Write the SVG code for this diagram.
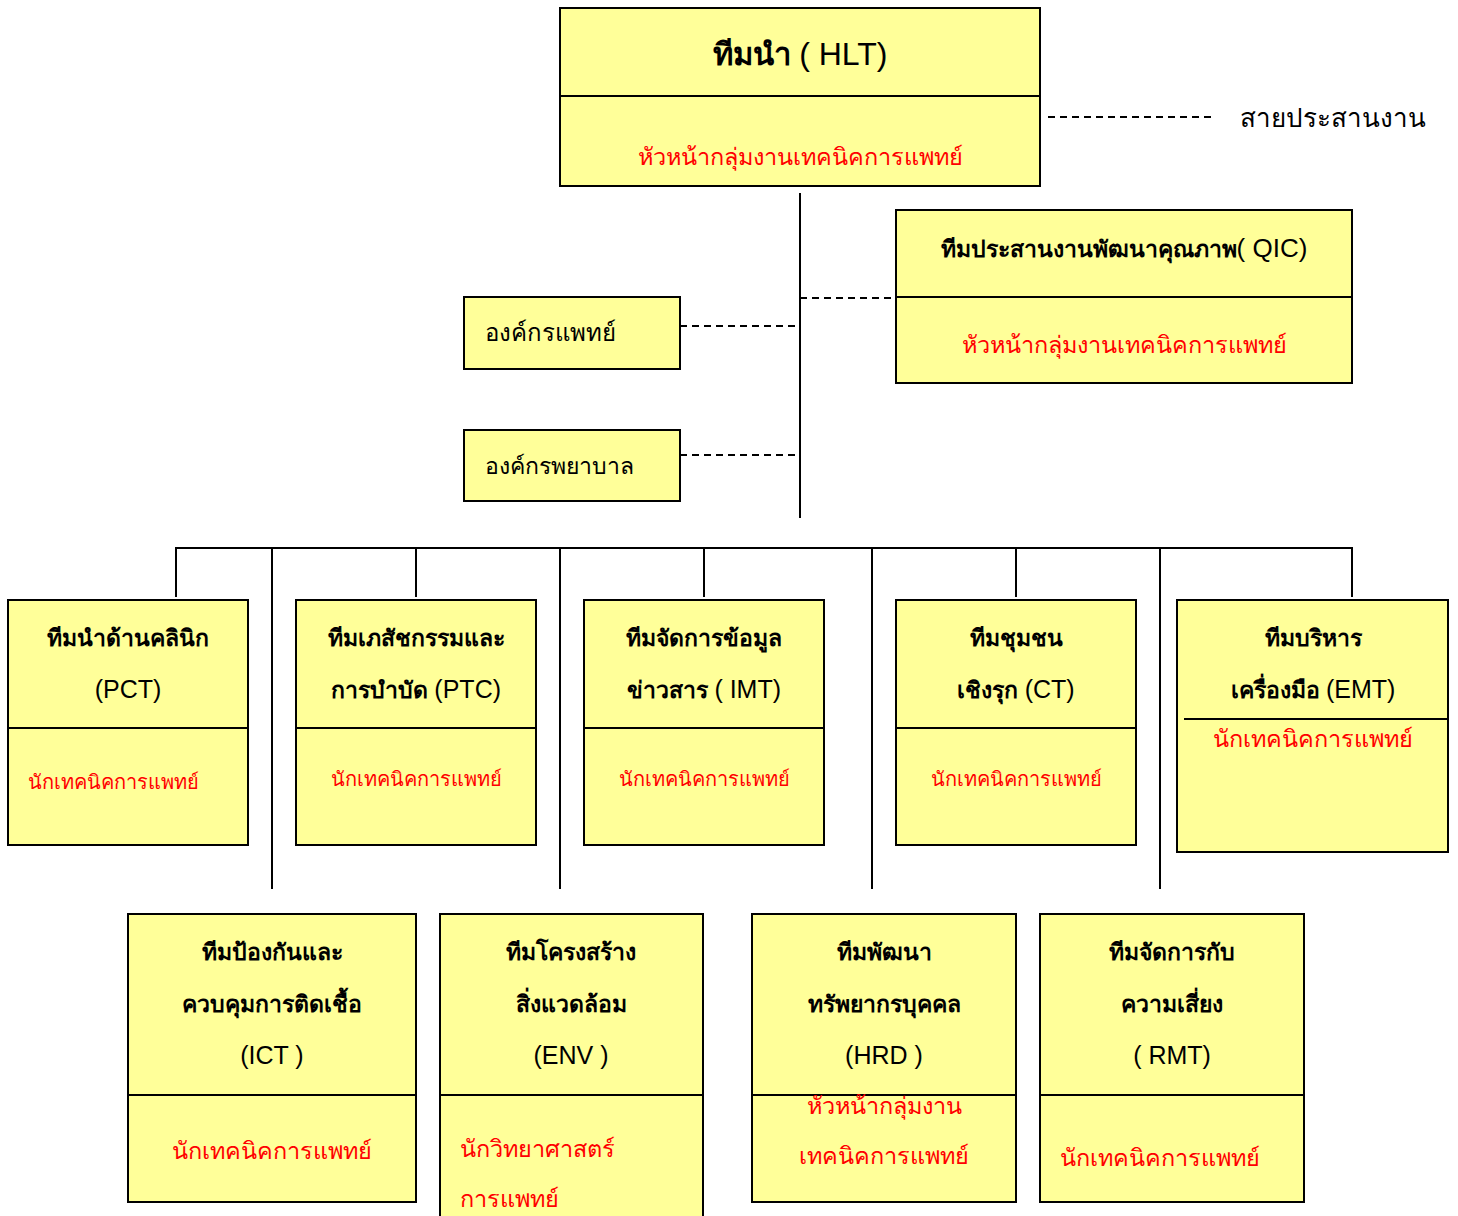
<svg xmlns="http://www.w3.org/2000/svg" width="1458" height="1216" viewBox="0 0 1458 1216">
  <style>
    .box { fill: #FFFF99; stroke: #000; stroke-width: 2; }
    .div { stroke: #000; stroke-width: 2; fill: none; }
    .ln { stroke: #000; stroke-width: 2; fill: none; }
    .dash { stroke: #000; stroke-width: 2; fill: none; stroke-dasharray: 7 5; }
    .t { font-family: "Liberation Sans", "Noto Sans", "DejaVu Sans", sans-serif; font-size: 23px; font-weight: bold; fill: #000; text-anchor: middle; }
    .lat { font-weight: normal; font-size: 25px; }
    .r { font-family: "Liberation Serif", "Noto Sans", "DejaVu Sans", serif; font-size: 23.5px; fill: #FF0000; }
    .rs { font-size: 20px; }
    .c { text-anchor: middle; }
    .k { font-family: "Liberation Sans", "Noto Sans", "DejaVu Sans", sans-serif; font-size: 24px; fill: #000; }
  </style>

  <!-- connectors -->
  <g id="connectors">
    <line class="ln" x1="800" y1="193" x2="800" y2="518"/>
    <line class="dash" x1="800" y1="298" x2="896" y2="298"/>
    <line class="dash" x1="680" y1="326" x2="800" y2="326"/>
    <line class="dash" x1="680" y1="455" x2="800" y2="455"/>
    <line class="dash" x1="1048" y1="117" x2="1212" y2="117"/>
    <line class="ln" x1="175" y1="548" x2="1353" y2="548"/>
    <line class="ln" x1="176" y1="548" x2="176" y2="597"/>
    <line class="ln" x1="416" y1="548" x2="416" y2="597"/>
    <line class="ln" x1="704" y1="548" x2="704" y2="597"/>
    <line class="ln" x1="1016" y1="548" x2="1016" y2="597"/>
    <line class="ln" x1="1352" y1="548" x2="1352" y2="597"/>
    <line class="ln" x1="272" y1="548" x2="272" y2="889"/>
    <line class="ln" x1="560" y1="548" x2="560" y2="889"/>
    <line class="ln" x1="872" y1="548" x2="872" y2="889"/>
    <line class="ln" x1="1160" y1="548" x2="1160" y2="889"/>
  </g>

  <!-- legend -->
  <text class="k" x="1240" y="127" style="font-size:26px">สายประสานงาน</text>

  <g id="hlt">
    <rect class="box" x="560" y="8" width="480" height="178"/>
    <line class="div" x1="560" y1="96" x2="1040" y2="96"/>
    <text class="t" x="800" y="65" style="font-size:31px">ทีมนำ <tspan class="lat" style="font-size:32px">( HLT)</tspan></text>
    <text class="r c" x="800" y="165">หัวหน้ากลุ่มงานเทคนิคการแพทย์</text>
  </g>

  <g id="qic">
    <rect class="box" x="896" y="210" width="456" height="173"/>
    <line class="div" x1="896" y1="297" x2="1352" y2="297"/>
    <text class="t" x="1124" y="257">ทีมประสานงานพัฒนาคุณภาพ<tspan class="lat" style="font-size:26px">( QIC)</tspan></text>
    <text class="r c" x="1124" y="353">หัวหน้ากลุ่มงานเทคนิคการแพทย์</text>
  </g>

  <g id="org-doctor">
    <rect class="box" x="464" y="297" width="216" height="72"/>
    <text class="k" x="485" y="341">องค์กรแพทย์</text>
  </g>

  <g id="org-nurse">
    <rect class="box" x="464" y="430" width="216" height="71"/>
    <text class="k" x="485" y="474" style="font-size:23px">องค์กรพยาบาล</text>
  </g>

  <g id="pct">
    <rect class="box" x="8" y="600" width="240" height="245"/>
    <line class="div" x1="8" y1="728" x2="248" y2="728"/>
    <text class="t" x="128" y="646">ทีมนำด้านคลินิก</text>
    <text class="t lat" x="128" y="698">(PCT)</text>
    <text class="r rs" x="28" y="789">นักเทคนิคการแพทย์</text>
  </g>

  <g id="ptc">
    <rect class="box" x="296" y="600" width="240" height="245"/>
    <line class="div" x1="296" y1="728" x2="536" y2="728"/>
    <text class="t" x="416" y="646">ทีมเภสัชกรรมและ</text>
    <text class="t" x="416" y="698">การบำบัด <tspan class="lat">(PTC)</tspan></text>
    <text class="r rs c" x="416" y="786">นักเทคนิคการแพทย์</text>
  </g>

  <g id="imt">
    <rect class="box" x="584" y="600" width="240" height="245"/>
    <line class="div" x1="584" y1="728" x2="824" y2="728"/>
    <text class="t" x="704" y="646">ทีมจัดการข้อมูล</text>
    <text class="t" x="704" y="698">ข่าวสาร <tspan class="lat">( IMT)</tspan></text>
    <text class="r rs c" x="704" y="786">นักเทคนิคการแพทย์</text>
  </g>

  <g id="ct">
    <rect class="box" x="896" y="600" width="240" height="245"/>
    <line class="div" x1="896" y1="728" x2="1136" y2="728"/>
    <text class="t" x="1016" y="646">ทีมชุมชน</text>
    <text class="t" x="1016" y="698">เชิงรุก <tspan class="lat">(CT)</tspan></text>
    <text class="r rs c" x="1016" y="786">นักเทคนิคการแพทย์</text>
  </g>

  <g id="emt">
    <rect class="box" x="1177" y="600" width="271" height="252"/>
    <line class="div" x1="1184" y1="719" x2="1448" y2="719"/>
    <text class="t" x="1313" y="646">ทีมบริหาร</text>
    <text class="t" x="1313" y="698">เครื่องมือ <tspan class="lat">(EMT)</tspan></text>
    <text class="r c" x="1313" y="747">นักเทคนิคการแพทย์</text>
  </g>

  <g id="ict">
    <rect class="box" x="128" y="914" width="288" height="288"/>
    <line class="div" x1="128" y1="1095" x2="416" y2="1095"/>
    <text class="t" x="272" y="960">ทีมป้องกันและ</text>
    <text class="t" x="272" y="1012">ควบคุมการติดเชื้อ</text>
    <text class="t lat" x="272" y="1064">(ICT )</text>
    <text class="r c" x="272" y="1159">นักเทคนิคการแพทย์</text>
  </g>

  <g id="env">
    <rect class="box" x="440" y="914" width="263" height="310"/>
    <line class="div" x1="440" y1="1095" x2="703" y2="1095"/>
    <text class="t" x="571" y="960">ทีมโครงสร้าง</text>
    <text class="t" x="571" y="1012">สิ่งแวดล้อม</text>
    <text class="t lat" x="571" y="1064">(ENV )</text>
    <text class="r" x="460" y="1157">นักวิทยาศาสตร์</text>
    <text class="r" x="460" y="1207">การแพทย์</text>
  </g>

  <g id="hrd">
    <rect class="box" x="752" y="914" width="264" height="288"/>
    <line class="div" x1="752" y1="1095" x2="1016" y2="1095"/>
    <text class="t" x="884" y="960">ทีมพัฒนา</text>
    <text class="t" x="884" y="1012">ทรัพยากรบุคคล</text>
    <text class="t lat" x="884" y="1064">(HRD )</text>
    <text class="r c" x="884" y="1114">หัวหน้ากลุ่มงาน</text>
    <text class="r c" x="884" y="1164">เทคนิคการแพทย์</text>
  </g>

  <g id="rmt">
    <rect class="box" x="1040" y="914" width="264" height="288"/>
    <line class="div" x1="1040" y1="1095" x2="1304" y2="1095"/>
    <text class="t" x="1172" y="960">ทีมจัดการกับ</text>
    <text class="t" x="1172" y="1012">ความเสี่ยง</text>
    <text class="t lat" x="1172" y="1064">( RMT)</text>
    <text class="r" x="1060" y="1166">นักเทคนิคการแพทย์</text>
  </g>
</svg>
